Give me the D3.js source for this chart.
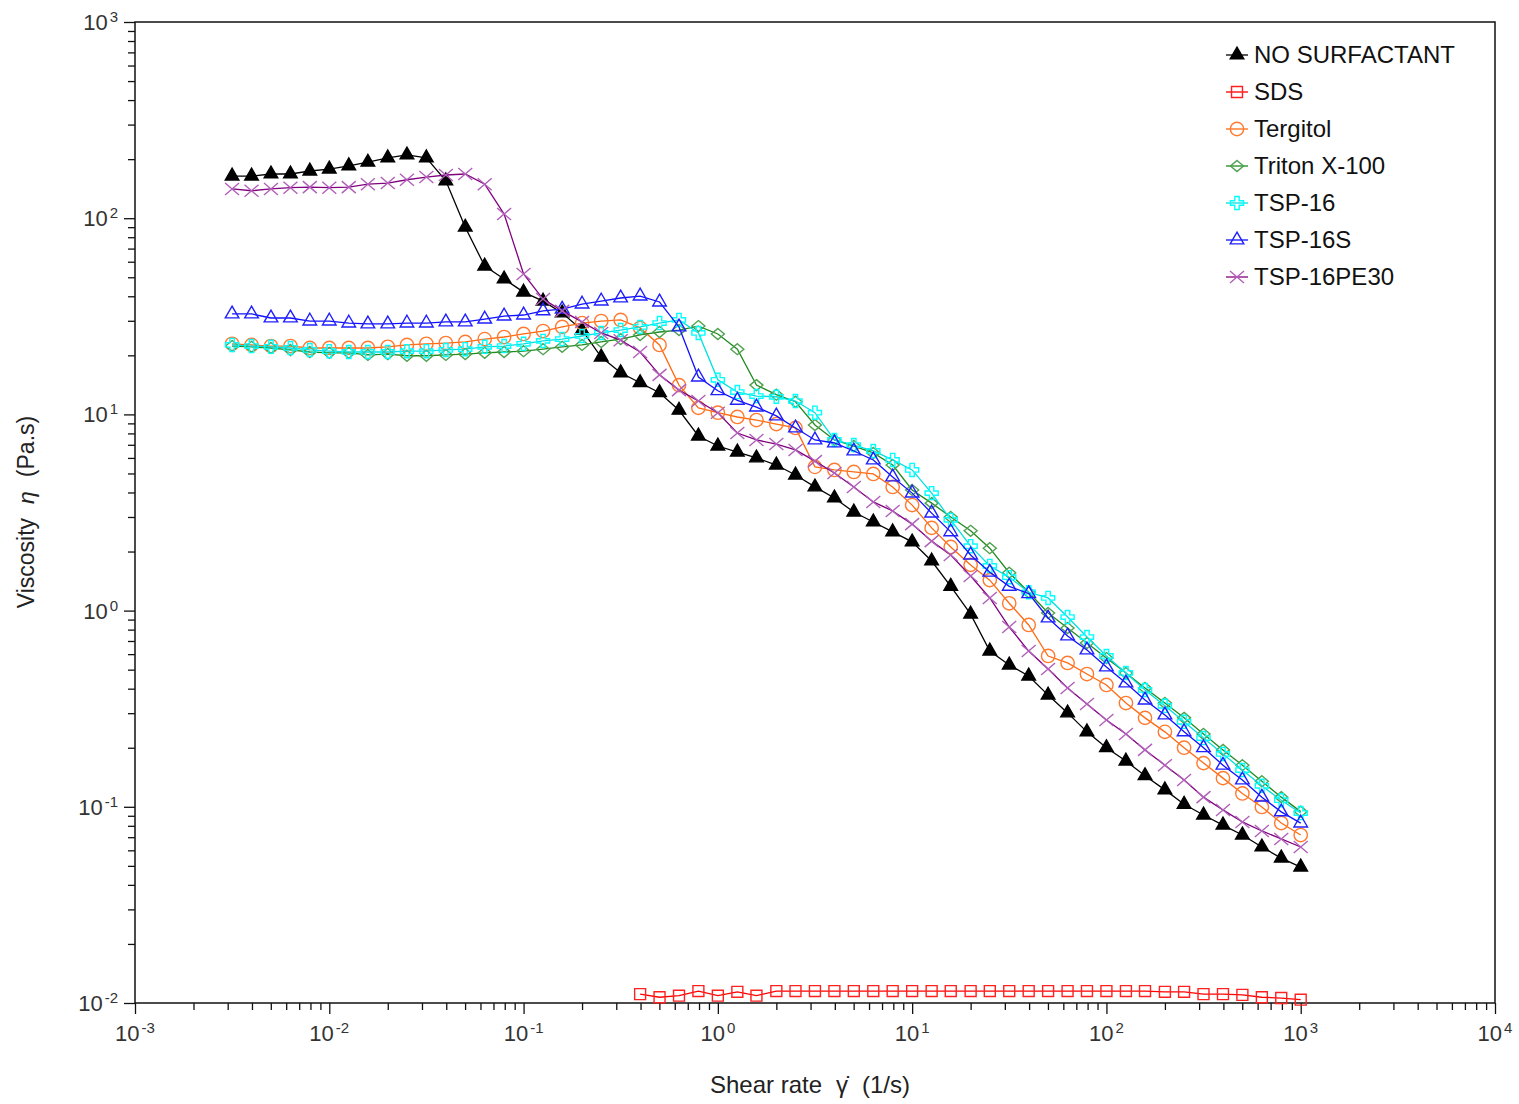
<!DOCTYPE html>
<html>
<head>
<meta charset="utf-8">
<script src="https://cdn.jsdelivr.net/npm/d3@7"></script>
<style>
body { margin: 0; background: #fff; }
svg { font-family: "Liberation Sans", Arial, sans-serif; }
</style>
</head>
<body>
<svg id="chart" width="1519" height="1104"></svg>
<script>
// shear rate (1/s), 10 points per decade
var shearRate = [0.00316, 0.00398, 0.00501, 0.00631, 0.00794, 0.01, 0.0126, 0.0158, 0.02, 0.0251,
	0.0316, 0.0398, 0.0501, 0.0631, 0.0794, 0.1, 0.126, 0.158, 0.2, 0.251,
	0.316, 0.398, 0.501, 0.631, 0.794, 1, 1.26, 1.58, 2, 2.51,
	3.16, 3.98, 5.01, 6.31, 7.94, 10, 12.6, 15.8, 20, 25.1,
	31.6, 39.8, 50.1, 63.1, 79.4, 100, 126, 158, 200, 251,
	316, 398, 501, 631, 794, 1000];
var sdsRate = shearRate.slice(21);

// viscosity (Pa.s)
var noSurfactant = [164, 164, 168, 168, 174, 178, 185, 193, 203, 210,
	203, 155, 90, 57, 49, 42, 37.8, 32.9, 26.9, 19.6,
	16.3, 14.5, 12.9, 10.5, 7.76, 6.90, 6.43, 6.0, 5.52, 4.91,
	4.27, 3.75, 3.18, 2.83, 2.52, 2.24, 1.79, 1.33, 0.96, 0.622,
	0.528, 0.464, 0.371, 0.301, 0.241, 0.200, 0.171, 0.144, 0.122, 0.103,
	0.0908, 0.0807, 0.0718, 0.0624, 0.0548, 0.0493];
var sds = [0.0111, 0.0107, 0.0109, 0.0115, 0.0109, 0.0114, 0.0109,
	0.0115, 0.0115, 0.0115, 0.0115, 0.0115, 0.0115, 0.0115, 0.0115, 0.0115, 0.0115,
	0.0115, 0.0115, 0.0115, 0.0115, 0.0115, 0.0115, 0.0115, 0.0115, 0.0115, 0.0115,
	0.0114, 0.0114, 0.0111, 0.0111, 0.0110, 0.0107, 0.0106, 0.0104];
var tergitol = [22.9, 22.6, 22.3, 22.3, 21.8, 21.8, 21.8, 21.8, 22.1, 22.6,
	22.9, 23.1, 23.4, 24.2, 24.8, 25.7, 26.6, 27.9, 29.2, 29.9,
	30.3, 27.6, 22.6, 14.1, 10.8, 10.2, 9.70, 9.36, 8.93, 8.53,
	5.40, 5.21, 5.09, 4.97, 4.27, 3.45, 2.64, 2.11, 1.71, 1.43,
	1.09, 0.845, 0.587, 0.541, 0.475, 0.418, 0.338, 0.284, 0.241, 0.200,
	0.167, 0.140, 0.117, 0.0998, 0.0826, 0.0718];
var triton = [22.3, 22.1, 21.8, 21.3, 20.8, 20.6, 20.6, 20.1, 20.3, 19.9,
	19.9, 20.1, 20.3, 20.6, 20.8, 21.0, 21.5, 22.1, 22.6, 23.4,
	24.2, 25.4, 26.3, 26.9, 28.2, 25.7, 21.5, 14.1, 12.6, 11.6,
	8.83, 7.41, 6.90, 6.36, 5.52, 4.12, 3.53, 3.00, 2.55, 2.08,
	1.56, 1.24, 0.973, 0.815, 0.684, 0.573, 0.481, 0.403, 0.338, 0.284,
	0.235, 0.195, 0.163, 0.135, 0.112, 0.0945];
var tsp16 = [22.6, 22.3, 22.1, 21.8, 21.3, 21.0, 20.8, 20.8, 20.8, 21.0,
	21.0, 21.3, 21.5, 22.1, 22.3, 22.9, 23.7, 24.2, 25.1, 26.0,
	26.9, 27.9, 29.2, 30.3, 26.0, 15.0, 13.0, 12.4, 12.3, 11.7,
	10.2, 7.41, 6.98, 6.51, 5.86, 5.21, 3.97, 2.90, 2.13, 1.69,
	1.48, 1.24, 1.16, 0.927, 0.733, 0.587, 0.481, 0.394, 0.327, 0.271,
	0.224, 0.186, 0.154, 0.128, 0.108, 0.0929];
var tsp16s = [32.5, 32.5, 31.0, 31.0, 29.9, 29.9, 29.2, 28.9, 28.9, 29.2,
	29.2, 29.6, 29.6, 30.6, 31.7, 32.1, 33.7, 34.4, 36.5, 37.8,
	39.2, 40.1, 37.4, 27.9, 15.5, 13.2, 11.8, 10.9, 9.82, 8.53,
	7.41, 7.15, 6.51, 5.86, 4.80, 3.97, 3.14, 2.52, 1.92, 1.57,
	1.33, 1.22, 0.917, 0.743, 0.630, 0.516, 0.428, 0.350, 0.294, 0.241,
	0.200, 0.163, 0.137, 0.112, 0.0942, 0.0826];
var tsp16pe30 = [141, 138, 141, 143, 144, 143, 144, 149, 151, 157,
	162, 166, 168, 149, 105, 52, 38.7, 33.7, 29.6, 26.0,
	23.9, 20.8, 15.9, 13.3, 11.7, 10.2, 8.04, 7.41, 7.06, 6.59,
	5.78, 5.03, 4.27, 3.58, 3.22, 2.76, 2.26, 1.92, 1.50, 1.16,
	0.825, 0.622, 0.504, 0.403, 0.334, 0.277, 0.235, 0.195, 0.163, 0.137,
	0.112, 0.0964, 0.0837, 0.0753, 0.0686, 0.0624];

var seriesNames = ["NO SURFACTANT", "SDS", "Tergitol", "Triton X-100", "TSP-16", "TSP-16S", "TSP-16PE30"];
var xDecades = [1e-3, 1e-2, 1e-1, 1e0, 1e1, 1e2, 1e3, 1e4];
var xExponents = ["-3", "-2", "-1", "0", "1", "2", "3", "4"];
var yDecades = [1e-2, 1e-1, 1e0, 1e1, 1e2, 1e3];
var yExponents = ["-2", "-1", "0", "1", "2", "3"];

(function () {
	var svg = d3.select("#chart");
	var margin = {top: 22, right: 24, bottom: 101, left: 135},
		width = +svg.attr("width") - margin.left - margin.right,
		height = +svg.attr("height") - margin.top - margin.bottom,
		g = svg.append("g").attr("transform", "translate(" + margin.left + "," + margin.top + ")");

	var x = d3.scaleLog().domain([1e-3, 1e4]).range([0, width]);
	var y = d3.scaleLog().domain([1e-2, 1e3]).range([height, 0]);

	// minor tick positions 2..9 x 10^n
	function minors(decades) {
		var out = [];
		decades.slice(0, -1).forEach(function (d) {
			for (var m = 2; m <= 9; m++) out.push(d * m);
		});
		return out;
	}

	var xMinor = g.append("g").attr("transform", "translate(0," + height + ")")
		.call(d3.axisBottom(x).tickValues(minors(xDecades)).tickSize(7).tickFormat(""));
	var xMajor = g.append("g").attr("transform", "translate(0," + height + ")")
		.call(d3.axisBottom(x).tickValues(xDecades).tickSize(11).tickFormat(""));
	var yMinor = g.append("g")
		.call(d3.axisLeft(y).tickValues(minors(yDecades)).tickSize(7).tickFormat(""));
	var yMajor = g.append("g")
		.call(d3.axisLeft(y).tickValues(yDecades).tickSize(11).tickFormat(""));

	[xMinor, xMajor, yMinor, yMajor].forEach(function (a) {
		a.select(".domain").remove();
		a.selectAll("line").attr("stroke", "#111").attr("stroke-width", 1.3);
	});

	// tick labels 10^n
	var xl = g.append("g").selectAll("text").data(xDecades).enter().append("text")
		.attr("x", function (d) { return x(d); })
		.attr("y", height + 38)
		.attr("text-anchor", "middle")
		.attr("font-size", 22)
		.attr("fill", "#333");
	xl.append("tspan").text("10");
	xl.append("tspan").attr("font-size", 15).attr("dx", 2).attr("dy", -8)
		.text(function (d, i) { return xExponents[i]; });

	var yl = g.append("g").selectAll("text").data(yDecades).enter().append("text")
		.attr("x", -17)
		.attr("y", function (d) { return y(d) + 8; })
		.attr("text-anchor", "end")
		.attr("font-size", 22)
		.attr("fill", "#333");
	yl.append("tspan").text("10");
	yl.append("tspan").attr("font-size", 15).attr("dx", 2).attr("dy", -8)
		.text(function (d, i) { return yExponents[i]; });

	// frame
	g.append("rect")
		.attr("width", width)
		.attr("height", height)
		.attr("fill", "none")
		.attr("stroke", "#111")
		.attr("stroke-width", 1.5);

	// axis titles
	var xt = svg.append("text")
		.attr("x", 810)
		.attr("y", 1093)
		.attr("text-anchor", "middle")
		.attr("font-size", 24)
		.attr("fill", "#222");
	xt.append("tspan").text("Shear rate");
	xt.append("tspan").attr("dx", 14).text("\u03B3\u0307");
	xt.append("tspan").attr("dx", 14).text("(1/s)");

	var yt = svg.append("text")
		.attr("transform", "translate(34,512) rotate(-90)")
		.attr("text-anchor", "middle")
		.attr("font-size", 23)
		.attr("fill", "#222");
	yt.append("tspan").text("Viscosity");
	yt.append("tspan").attr("dx", 14).attr("font-style", "italic").text("\u03B7");
	yt.append("tspan").attr("dx", 14).text("(Pa.s)");

	// marker shapes
	var diamond = "M0,-5.5L6.5,0L0,5.5L-6.5,0Z";
	var cross = "M-7,-6L7,6M-7,6L7,-6";
	var series = [
		{name: seriesNames[0], rate: shearRate, values: noSurfactant, line: "#000", mark: "#000", fill: "#000", d: d3.symbol().type(d3.symbolTriangle).size(80)()},
		{name: seriesNames[1], rate: sdsRate, values: sds, line: "#ff0000", mark: "#ff2020", fill: "none", d: d3.symbol().type(d3.symbolSquare).size(120)()},
		{name: seriesNames[2], rate: shearRate, values: tergitol, line: "#ff6a10", mark: "#ff7a30", fill: "none", d: d3.symbol().type(d3.symbolCircle).size(140)()},
		{name: seriesNames[3], rate: shearRate, values: triton, line: "#208a20", mark: "#4fa04f", fill: "none", d: diamond},
		{name: seriesNames[4], rate: shearRate, values: tsp16, line: "#00e0e0", mark: "#00ffff", fill: "none", d: d3.symbol().type(d3.symbolCross).size(95)()},
		{name: seriesNames[5], rate: shearRate, values: tsp16s, line: "#1010ff", mark: "#2020ff", fill: "none", d: d3.symbol().type(d3.symbolTriangle).size(80)()},
		{name: seriesNames[6], rate: shearRate, values: tsp16pe30, line: "#800080", mark: "#b060b8", fill: "none", d: cross}
	];

	var line = d3.line()
		.x(function (d) { return x(d.rate); })
		.y(function (d) { return y(d.value); });

	series.forEach(function (s) {
		var pts = s.values.map(function (v, i) { return {rate: s.rate[i], value: v}; });
		var sg = g.append("g");
		sg.append("path")
			.datum(pts)
			.attr("fill", "none")
			.attr("stroke", s.line)
			.attr("stroke-width", 1.3)
			.attr("d", line);
		sg.selectAll(".mark")
			.data(pts)
			.enter().append("path")
			.attr("class", "mark")
			.attr("transform", function (d) { return "translate(" + x(d.rate) + "," + y(d.value) + ")"; })
			.attr("d", s.d)
			.attr("fill", s.fill)
			.attr("stroke", s.mark)
			.attr("stroke-width", 1.4);
	});

	// legend
	var lg = svg.append("g").attr("transform", "translate(1226,55)");
	var items = lg.selectAll("g").data(series).enter().append("g")
		.attr("transform", function (d, i) { return "translate(0," + i * 37 + ")"; });
	items.append("line")
		.attr("x1", 0).attr("x2", 22)
		.attr("stroke", function (d) { return d.line; })
		.attr("stroke-width", 1.3);
	items.append("path")
		.attr("transform", "translate(11,0)")
		.attr("d", function (d) { return d.d; })
		.attr("fill", function (d) { return d.fill; })
		.attr("stroke", function (d) { return d.mark; })
		.attr("stroke-width", 1.4);
	items.append("text")
		.attr("x", 28)
		.attr("y", 8)
		.attr("font-size", 24)
		.attr("fill", "#111")
		.text(function (d) { return d.name; });
})();
</script>
</body>
</html>
